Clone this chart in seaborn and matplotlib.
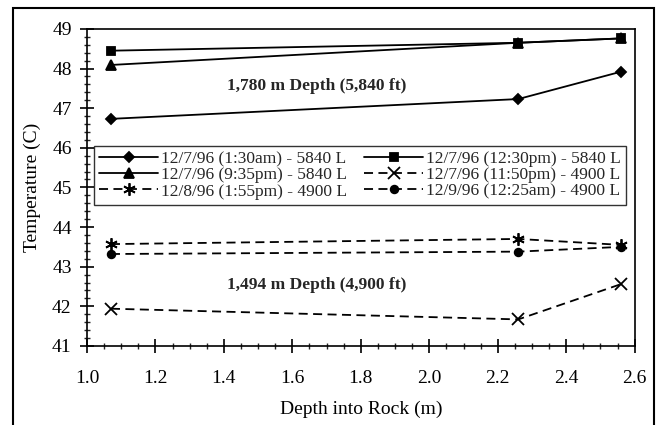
import matplotlib
matplotlib.use("Agg")
import matplotlib.pyplot as plt
from matplotlib.patches import Rectangle
from matplotlib.ticker import MultipleLocator
import pandas as pd
import seaborn as sns

sns.set_theme(style="white")
plt.rcParams['font.family'] = ['Liberation Serif', 'DejaVu Serif']

depth = [1.07, 2.26, 2.56]

labels = [
    "12/7/96 (1:30am) - 5840 L",
    "12/7/96 (9:35pm) - 5840 L",
    "12/8/96 (1:55pm) - 4900 L",
    "12/7/96 (12:30pm) - 5840 L",
    "12/7/96 (11:50pm) - 4900 L",
    "12/9/96 (12:25am) - 4900 L",
]
temp_130am = [46.73, 47.23, 47.92]
temp_935pm = [48.09, 48.65, 48.76]
temp_155pm = [43.57, 43.70, 43.55]
temp_1230pm = [48.45, 48.65, 48.76]
temp_1150pm = [41.94, 41.67, 42.56]
temp_1225am = [43.32, 43.38, 43.50]
series = [temp_130am, temp_935pm, temp_155pm, temp_1230pm, temp_1150pm, temp_1225am]

markers = ["D", "^", (6, 2, 0), "s", "x", "o"]
dashed = [False, False, True, False, True, True]
msizes = [5.5, 6.5, 9, 6, 8, 5.5]

rows = []
for lab, vals in zip(labels, series):
    for d, t in zip(depth, vals):
        rows.append({"depth": d, "temp": t, "run": lab})
df = pd.DataFrame(rows)

fig = plt.figure(figsize=(6.57, 4.25), dpi=100)
ax = fig.add_axes([0.1324, 0.186, 0.8336, 0.746])

for lab, mk, ds, ms in zip(labels, markers, dashed, msizes):
    sub = df[df["run"] == lab]
    sns.lineplot(data=sub, x="depth", y="temp", ax=ax, color="black",
                 marker=mk, markersize=ms, linewidth=1.3,
                 linestyle=(0, (5, 3)) if ds else "-",
                 markeredgecolor="black", markerfacecolor="black",
                 markeredgewidth=1.3, label=lab)

ax.set_xlim(1.0, 2.6)
ax.set_ylim(41, 49)
ax.xaxis.set_major_locator(MultipleLocator(0.2))
ax.xaxis.set_minor_locator(MultipleLocator(0.05))
ax.yaxis.set_major_locator(MultipleLocator(1))
ax.yaxis.set_minor_locator(MultipleLocator(0.2))
ax.xaxis.set_major_formatter(matplotlib.ticker.FormatStrFormatter("%.1f"))
ax.tick_params(which="major", direction="inout", length=10, width=1.2,
               labelsize=14, colors="black", bottom=True, left=True, pad=6)
ax.tick_params(axis="x", which="major", pad=12)
ax.tick_params(which="minor", direction="inout", length=5, width=1,
               bottom=True, left=True)
for s in ax.spines.values():
    s.set_color("black")
    s.set_linewidth(1.2)

ax.set_xlabel("Depth into Rock (m)", fontsize=14, color="black", labelpad=10)
ax.set_ylabel("Temperature (C)", fontsize=14, color="black", labelpad=8)

ax.text(1.67, 47.56, "1,780 m Depth (5,840 ft)", fontsize=12.5,
        fontweight="bold", ha="center", va="center")
ax.text(1.67, 42.54, "1,494 m Depth (4,900 ft)", fontsize=12.5,
        fontweight="bold", ha="center", va="center")

leg = ax.legend(ncol=2, loc="upper left", bbox_to_anchor=(0.013, 0.631),
                fontsize=12.5, frameon=True, fancybox=False,
                handlelength=3.4, handletextpad=0.15, columnspacing=1.0,
                labelspacing=0.0, borderpad=0.3, borderaxespad=0)
leg.get_frame().set_edgecolor("black")
leg.get_frame().set_linewidth(1.0)

fig.patches.append(Rectangle((13 / 657, -0.02), 641 / 657, 1 - 8 / 425 + 0.02,
                             transform=fig.transFigure, fill=False,
                             edgecolor="black", linewidth=1.5))

fig.savefig("out.png", dpi=100)
